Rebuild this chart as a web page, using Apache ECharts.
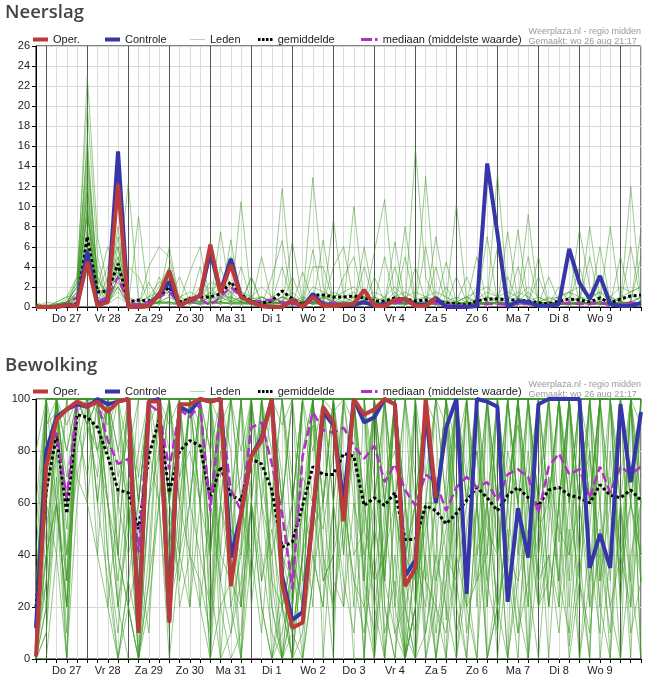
<!DOCTYPE html>
<html>
<head>
  <meta charset="utf-8">
  <title>Neerslag en bewolking - pluim</title>
  <script src="https://cdn.jsdelivr.net/npm/echarts@6/dist/echarts.min.js"></script>
  <style>
    html, body { margin: 0; padding: 0; background: #fff; }
    #pluim { width: 649px; height: 685px; }
  </style>
</head>
<body>
  <div id="pluim"></div>
  <script>
  // tijdas: 6-uurlijkse stappen, van wo 26 18u t/m do 10 12u
  var dagen = ['Wo 26', 'Do 27', 'Vr 28', 'Za 29', 'Zo 30', 'Ma 31', 'Di 1', 'Wo 2', 'Do 3', 'Vr 4', 'Za 5', 'Zo 6', 'Ma 7', 'Di 8', 'Wo 9', 'Do 10'];
  var uren = ['00', '06', '12', '18'];

  // ---- Neerslag (mm) ----
  var operNeerslag = [0,0,0,0.2,0.1,4.5,0.1,0.5,12.2,0, 0,0.1,1.2,3.6,0.1,0.7,1.1,6.2,1.4,4.2, 1.0,0.5,0.1,0,0,0.7,0,1.0,0.1,0.1, 0.2,0.3,1.7,0.1,0.1,0.7,0.8,0.1,0.1,0.9];
  var controleNeerslag = [0,0,0,0.2,0.1,5.5,0.2,0.6,15.5,0, 0,0.1,1.3,2.5,0.1,0.7,1.1,5.5,1.5,4.8, 1.0,0.5,0.1,0,0,0.7,0,1.3,0.2,0.1, 0.2,0.2,0.5,0.1,0.2,0.7,0.8,0.2,0.2,0.9, 0,0,0,0.1,14.3,7.3,0,0.6,0.5,0.1, 0.1,0.3,5.8,2.4,0.8,3.1,0.3,0.1,0.1,0.4];
  var gemNeerslag = [0.1,0,0,0.2,0.3,7.0,1.5,1.6,4.3,0.5, 0.7,0.6,1.0,2.0,0.5,0.8,1.0,1.0,1.3,2.5, 1.2,0.6,0.4,0.6,1.6,0.8,0.2,1.2,1.2,1.0, 1.0,1.1,0.9,0.6,0.6,0.9,0.8,0.6,0.7,0.6, 0.4,0.3,0.2,0.6,0.8,0.8,0.7,0.7,0.6,0.4, 0.3,0.6,0.8,0.7,0.5,0.9,0.4,0.8,1.1,1.2];
  var medNeerslag = [0,0,0,0.2,1,5.5,0.5,1,3,0.3, 0.3,0.5,1,1.5,0.3,0.5,0.8,0.2,1,2, 1,0.5,0.6,0.7,0.5,0.3,0.2,0.6,0.5,0.4, 0.3,0.4,0.5,0.3,0.3,0.4,0.5,0.3,0.3,0.4, 0.2,0.2,0.1,0.2,0.3,0.3,0.2,0.3,0.3,0.2, 0.2,0.3,0.4,0.3,0.3,0.4,0.2,0.3,0.4,0.4];
  var ledenNeerslag = [
    [0,0,0,0.5,2,23,7,2,4,0.5, 0,0.2,1,2,0.5,0.3,1,2,0.8,1.5, 0.5,0.2,0,0.3,1,0.5,0,0.8,1.2,0.5, 0.3,1,0.5,0.2,0.5,1.5,0.3,0.8,0.5,0.2, 0,0.2,0,0.5,1,0.8,0.2,0.5,1.5,0.3, 0.1,0.5,0.3,1,0.5,0.2,0.8,0.5,1.2,0.6],
    [0,0,0,0.2,3,20,5,1,8,0.3, 0.2,0,3,1,0.2,1,0.5,0.4,1.5,0.8, 0.3,3,0.5,0,0,0.2,3.5,0.5,0.3,1, 0.5,0.2,6,0.5,0.1,0.3,1,0.5,0,0.4, 0.2,0,0.5,0.3,0.2,1,3,0.5,0.2,0.1, 0,0.3,1.5,0.5,0.2,0.8,0.5,0.2,0.5,1],
    [0.5,0,0,0,1,17,2,6,3,12.3, 0.5,0,0.5,1,3,0.5,0.2,0.4,0.5,0.3, 0.5,0.3,1,0.5,11.8,1,0.5,0.3,0.5,0.3, 0.2,0.5,0.3,0.2,0.4,0.6,0.4,0.5,0.2,7, 1,0.3,0.1,0.3,0.5,0.2,0.5,0.2,0.3,0.5, 0.3,0.2,0.5,7.7,2,0.5,0.2,0.1,0.3,0.5],
    [0,0.3,0.2,0.5,1.5,14,3,0.5,7,0.2, 9,0.5,0.3,0.5,0.2,1,0.5,6.5,1,0.5, 0.5,0.3,0.5,0.3,0.2,0.5,0.2,0.5,0.3,8.7, 1,0.5,0.3,0.2,0.5,0.3,0.2,15.8,3,0.5, 0.2,0.1,0.3,0.5,0.3,0.5,0.2,0.5,0.3,0.2, 0.5,0.3,0.2,0.5,8,1,0.5,0.3,0.2,0.5],
    [0,0,0.2,0.3,0.5,12,1.5,4,6,0.5, 0.2,4,6,5,0.5,0.3,0.5,0.2,7.5,1, 0.5,0.5,0.3,0.2,0.5,0.3,0.5,12.9,2,0.5, 0.3,0.2,0.5,0.3,0.2,0.5,0.3,0.5,0.2,0.3, 0.5,10.3,0.5,0.2,0.3,0.5,0.3,0.2,0.5,0.3, 0.2,0.5,0.3,0.2,0.5,0.3,0.5,0.3,12,0.5],
    [0.3,0,0,0.2,2.5,11,0.5,3,5,0.3, 0,0.5,1,6,0.5,3.5,6,0.5,0.3,0.5, 10.5,0.5,0.3,0.5,0.3,0.2,0.5,0.3,0.2,0.5, 0.3,10,0.5,0.3,0.5,0.3,0.2,0.5,0.3,0.2, 0.3,0.2,0.5,0.3,0.5,13.3,1,0.5,0.3,0.2, 0.5,0.3,0.2,0.5,0.3,0.2,0.5,0.3,0.5,0.3],
    [0,0,0.5,1,1,10,0.3,0.5,4,0.2, 0.3,0.2,0.5,0.5,0.3,0.5,0.3,0.5,0.5,6.7, 0.5,0.3,5,0.5,0.3,6.5,0.5,0.3,0.5,0.3, 0.2,0.5,0.3,5.5,10.7,0.5,0.3,0.2,0.5,0.3, 4.5,0.5,0.3,0.2,0.5,0.3,7.5,0.5,0.3,0.5, 0.3,0.2,0.5,0.3,0.2,0.5,8,0.5,0.3,0.2],
    [0.2,0,0,0.5,2,9,4,0.5,2.5,0.5, 0.3,0.5,0.5,3,0.5,0.5,0.3,5,0.5,0.3, 0.5,3,0.3,0.5,0.3,0.2,0.5,0.3,6.7,0.5, 0.3,0.5,0.3,0.2,0.5,6.5,0.3,0.5,13,0.5, 0.3,0.2,0.5,0.3,0.2,0.5,0.3,7.7,0.5,0.3, 0.2,0.5,5.5,0.3,0.5,0.3,0.2,0.5,0.3,7.7],
    [0,0,0.3,0.5,0.5,8,1,0.5,2,0.2, 0.2,0.3,0.5,0.5,0.3,0.5,0.3,0.5,0.5,0.3, 0.5,0.3,0.2,3,6.6,0.5,0.3,0.5,0.3,4, 6,0.5,0.3,0.2,0.5,0.3,8,0.5,0.3,0.5, 0.3,0.5,3,0.5,7,0.5,0.3,0.5,9.2,0.5, 0.3,0.5,0.3,0.5,0.3,6,0.5,0.3,0.5,0.3],
    [0,0.5,0.3,0.2,1.5,7.5,2,0.5,3,4, 3,0.5,0.3,4,0.5,0.3,4,0.5,4,0.5, 4,0.5,0.3,0.5,0.3,3,0.5,5.7,0.5,0.3, 0.5,0.3,4,0.5,0.3,0.5,0.3,4,0.5,0.3, 0.5,0.3,0.5,5,0.3,0.5,0.3,0.5,0.3,5, 0.3,0.5,0.3,0.5,5,0.3,0.5,0.3,0.5,0.3],
    [0,0,0,0.3,0.8,7,0.5,0.3,2,0.5, 0.2,2.5,0.5,0.3,0.2,0.5,0.3,0.5,0.3,5, 0.3,0.5,0.3,0.5,4,0.5,0.3,4,4,0.5, 0.3,0.5,0.3,3,0.5,4,0.3,0.5,0.3,4, 0.3,3,0.5,0.3,0.5,6,0.3,0.5,5,0.3, 3,0.5,0.3,0.5,0.3,0.5,0.3,5,0.5,5],
    [0.3,0,0.2,0.5,1,6,1.5,0.5,1.5,0.3, 0.2,0.5,0.3,0.5,0.3,0.5,2,0.5,0.3,0.5, 0.3,0.5,0.3,0.5,0.3,0.5,0.3,0.5,0.3,0.5, 3,5,0.3,0.5,5,0.3,5,0.3,6,0.3, 2,0.3,0.5,2,0.3,0.5,0.3,4,0.5,3, 0.3,2,0.5,4,0.3,3,0.5,0.3,6,0.5],
    [0,0,0,0.2,0.5,5,0.5,0.3,1,0.3, 0.2,0.3,0.5,0.3,0.5,0.3,0.5,0.3,0.5,0.3, 0.2,0.3,0.5,0.3,0.5,0.3,0.5,0.3,0.5,0.3, 0.5,0.3,0.5,0.3,0.5,0.3,0.5,0.3,0.5,0.3, 0.2,0.3,0.2,0.3,0.5,0.3,0.5,0.3,0.5,0.3, 0.5,0.3,0.5,0.3,0.5,0.3,0.5,0.3,0.5,0.3],
    [0,0,0.5,1,3,15,3,1,5,0.5, 0.3,0.5,2,4,0.5,1,0.5,1,1.5,0.5, 1,0.5,0.5,1,0.5,1.5,0.5,0.3,1,0.5, 0.5,1,0.5,1,0.5,0.5,1,0.5,0.5,1, 0.5,0.5,1,0.5,1,0.5,0.5,1,0.5,0.5, 1,0.5,0.5,1,0.5,0.5,1,0.5,0.5,1],
    [0,0,0,0.2,1.5,13,2,0.5,3,0.3, 0,0.3,0.5,2,0.3,0.5,1,0.5,0.5,1, 0.5,0.3,0.5,0.3,0.5,0.3,0.5,1,0.5,0.3, 0.3,0.5,1,0.5,0.3,0.5,0.3,0.5,0.3,0.5, 0.3,0.5,0.3,0.5,0.3,0.5,0.3,0.5,0.3,0.5, 0.3,0.5,0.3,0.5,0.3,0.5,0.3,0.5,0.3,0.5],
    [0.2,0,0.3,0.5,2,9,1,0.5,6,0.5, 0.3,0.5,1.5,3,1,0.5,1.5,0.8,1,1, 0.5,1,0.5,0.3,1,0.5,0.3,0.5,1,0.5, 1,0.5,0.3,0.5,1,0.5,0.5,0.3,1,0.5, 0.3,0.5,1,0.3,0.5,1,0.5,0.3,0.5,1, 0.5,0.3,1,0.5,0.3,0.5,1,0.5,0.3,1],
    [0,0,0,0.3,1,10,0.5,1,2,0.2, 0.2,0.3,1,1.5,0.3,0.8,0.5,1,2,0.5, 0.3,0.5,1,0.5,0.3,0.5,0.3,0.5,0.3,0.5, 0.3,0.5,0.3,0.5,0.3,0.5,0.3,0.5,0.3,0.5, 0.2,0.3,0.2,0.3,0.5,0.3,0.5,0.3,0.2,0.3, 0.5,0.3,0.2,0.3,0.5,0.3,0.2,0.3,0.5,0.3],
    [0,0.2,0,0.5,1,12,1.5,0.3,3,0.3, 0.2,0.5,0.5,1,0.5,1,0.5,1.5,1,0.5, 1,0.5,1,0.5,1,0.5,1,0.5,1,0.5, 0.5,0.5,0.3,0.5,0.5,0.3,0.5,0.5,0.3,0.5, 0.3,0.5,0.3,0.5,0.3,0.5,0.3,0.5,0.3,0.5, 0.3,0.5,0.3,0.5,0.3,0.5,0.3,0.5,0.3,0.5],
    [0,0,0.2,0.8,2.5,16,2.5,1.5,3.5,1, 0.5,1,2.5,2,1,1.5,1,2.5,2,1.5, 1.5,1,2,1,1.5,1,0.5,2,1.5,1, 1.5,2,1,1.5,1,2,1,1.5,1,1.5, 1,0.5,1,1.5,2,1,1.5,1,2,1, 0.5,1,1.5,2,1,1.5,1,2,1.5,2],
    [0,0,0.3,0.5,1,9.5,2,1,4.5,0.8, 0.5,1,1.5,2.5,0.5,1,0.8,1.5,2.5,2, 1.5,0.8,1,0.5,1,0.8,0.5,1,0.8,1.5, 1,1.5,0.8,1,0.5,1,1.5,0.8,1,0.8, 0.5,1,0.5,0.8,1.5,1,0.8,1.5,1,0.5, 0.8,1,1.5,1,0.8,1.5,0.5,1,1.5,2]
  ];

  // ---- Bewolking (%) ----
  var operBewolking = [1,74,92,96,99,97,99,95,99,100, 10,99,99,14,98,98,100,99,100,28, 56,78,84,100,29,12,14,55,97,91, 53,100,94,96,100,98,28,35,100,62];
  var controleBewolking = [12,80,93,96,98,97,100,98,99,100, 12,99,100,15,97,95,100,99,100,39, 56,78,85,100,32,15,18,55,95,90, 60,100,91,93,100,98,32,38,95,60, 89,100,25,100,99,97,22,58,39,98, 100,100,100,100,35,48,35,98,68,95];
  var gemBewolking = [20,65,86,56,94,93,89,78,65,64, 50,78,92,64,80,84,82,62,74,63, 61,77,75,65,43,45,59,74,71,71, 79,78,59,62,59,64,46,46,59,57, 52,56,61,66,62,57,63,66,62,59, 65,66,63,62,60,67,63,62,65,61];
  var medBewolking = [11,78,87,62,98,98,99,84,75,77, 41,98,95,73,96,93,98,57,97,65, 57,89,91,75,56,27,78,95,88,87, 89,82,77,82,68,75,65,59,71,68, 57,66,70,66,68,61,71,73,70,56, 74,79,71,73,62,74,64,74,71,74];
  var ledenBewolking = [
    [5,60,100,40,100,100,98,100,70,85, 30,100,100,90,100,100,100,40,90,100, 100,100,60,20,0,10,40,100,100,95, 100,100,100,70,30,100,10,0,40,100, 100,60,20,100,100,100,35,0,70,100, 100,45,100,100,20,100,100,60,0,100],
    [30,90,95,70,100,98,100,80,40,20, 0,60,100,100,70,95,100,100,30,10, 45,100,100,100,70,20,80,100,60,100, 100,90,30,100,100,55,0,20,100,90, 15,100,100,60,0,30,100,100,100,40, 100,100,5,40,100,100,30,100,100,70],
    [0,20,70,10,90,100,100,100,100,100, 70,100,100,20,100,100,60,0,100,100, 100,30,90,100,20,0,0,30,100,100, 60,100,100,20,50,100,100,70,10,40, 100,100,70,100,100,10,60,100,30,0, 50,100,100,100,80,20,100,100,60,100],
    [10,100,100,90,100,100,95,60,20,50, 100,100,100,60,30,60,100,100,100,80, 20,60,100,100,60,100,100,100,30,40, 100,100,40,0,100,100,60,30,100,100, 90,20,0,60,100,100,100,40,100,100, 20,60,100,0,50,100,100,20,100,90],
    [60,100,100,100,100,90,70,100,100,100, 40,10,80,100,100,100,100,80,100,40, 100,100,100,30,0,40,100,60,100,100, 100,70,0,100,100,20,0,100,100,30, 50,100,100,100,20,100,100,100,0,70, 100,100,40,100,100,60,0,100,100,30],
    [0,40,60,20,100,100,100,100,80,60, 20,100,100,100,60,100,90,20,60,100, 100,100,30,60,100,70,20,100,100,10, 100,100,100,100,0,60,100,30,60,100, 100,40,100,20,100,60,0,100,100,100, 60,100,100,30,0,100,100,100,20,100],
    [20,80,90,50,95,100,100,40,0,30, 60,100,100,40,100,100,100,100,90,20, 0,100,100,100,40,60,100,80,100,100, 70,20,100,100,100,100,30,60,100,50, 0,100,60,100,100,40,100,60,100,100, 100,30,100,100,100,60,100,20,100,100],
    [5,30,100,100,100,100,100,100,100,100, 100,100,100,100,100,60,40,20,100,100, 100,60,20,0,10,30,100,100,100,100, 100,100,60,30,40,100,100,100,0,20, 70,100,100,30,40,100,100,100,60,100, 100,100,70,20,100,100,40,100,100,0],
    [40,100,80,60,100,90,100,100,60,100, 0,40,100,60,100,100,100,100,100,60, 70,100,100,100,30,0,40,100,100,60, 100,100,30,100,60,10,0,20,100,100, 100,0,30,100,100,100,60,100,100,20, 30,100,100,100,60,100,100,70,100,100],
    [0,10,100,80,100,100,100,90,100,50, 80,100,100,20,50,100,100,60,100,100, 100,100,100,100,90,100,30,50,60,100, 100,100,100,0,40,100,100,100,30,0, 40,100,100,100,60,0,40,100,100,100, 100,100,100,60,30,100,100,100,100,40],
    [15,100,100,30,100,100,80,100,40,100, 100,100,100,100,100,100,100,100,20,30, 100,100,70,40,0,20,100,100,60,100, 100,100,50,100,100,100,0,40,60,100, 100,100,30,0,100,100,100,60,0,100, 100,20,100,100,100,100,60,100,100,100],
    [0,60,40,0,60,100,100,100,100,20, 40,100,100,100,100,60,100,40,100,100, 60,40,100,100,100,60,100,100,100,30, 20,100,100,100,30,100,60,0,100,100, 100,100,100,100,100,60,0,30,100,60, 100,100,30,100,100,0,40,100,60,100],
    [50,100,100,60,100,100,100,100,100,100, 100,100,100,30,100,100,60,100,100,100, 100,100,100,0,20,40,0,60,100,100, 100,100,100,100,100,60,30,100,70,100, 60,100,100,100,40,100,100,100,100,50, 60,100,100,100,60,100,100,30,100,60],
    [0,20,60,30,100,100,100,60,20,0, 0,30,100,80,20,40,100,100,70,100, 100,100,100,60,100,100,100,100,40,0, 100,100,20,0,60,100,100,100,30,60, 100,100,100,100,0,20,100,60,100,100, 100,100,100,40,100,100,100,100,30,100],
    [25,100,100,100,100,90,100,80,100,100, 60,100,80,100,100,100,20,0,60,40, 0,60,100,100,60,100,100,100,100,100, 60,0,0,60,100,100,100,60,100,100, 100,60,100,100,100,100,60,100,40,100, 100,100,100,100,60,100,100,100,100,100],
    [10,40,100,60,100,100,100,100,60,100, 20,80,60,100,100,100,100,40,100,60, 100,100,100,80,20,0,40,100,100,100, 100,100,100,100,20,0,60,100,100,20, 0,40,100,100,100,60,100,100,100,60, 0,60,100,100,100,100,60,0,100,100],
    [0,100,100,20,100,100,80,100,100,100, 100,100,100,100,100,100,100,100,100,100, 60,100,100,100,100,40,20,100,100,100, 100,100,100,40,100,100,20,0,60,60, 100,100,60,100,100,100,100,100,60,40, 100,100,60,100,100,100,100,100,100,100],
    [80,100,100,100,100,100,100,20,60,40, 60,100,100,60,100,100,100,60,100,20, 40,100,100,100,30,60,100,100,0,60, 100,100,100,60,100,60,100,100,100,100, 60,100,20,0,60,100,100,100,100,100, 100,60,100,40,0,100,100,100,100,0],
    [0,0,40,100,70,60,40,20,0,30, 10,60,100,20,40,60,100,30,0,10, 30,60,40,10,0,20,60,90,40,20, 50,80,30,10,40,60,20,0,10,40, 20,0,50,80,30,10,60,20,0,40, 70,30,10,60,20,40,10,60,30,0],
    [0,60,100,30,100,60,100,40,10,60, 0,20,60,10,100,40,20,60,30,60, 0,40,10,60,30,10,0,30,60,20, 60,30,10,40,0,60,30,10,40,0, 30,60,10,40,60,20,0,40,80,30, 40,10,50,0,30,60,20,0,40,60],
    [30,80,60,0,100,100,60,100,100,60, 30,90,100,60,40,100,60,100,40,30, 60,30,100,20,0,0,60,20,100,60, 20,60,40,60,10,30,0,40,20,60, 100,30,0,60,20,80,40,10,60,20, 60,100,20,80,40,10,80,40,20,60],
    [0,30,100,80,100,100,100,100,40,100, 60,100,60,100,60,100,100,10,100,60, 100,20,60,40,60,100,60,40,20,100, 40,100,60,100,20,0,40,60,0,30, 60,20,100,40,100,40,80,60,20,100, 20,60,100,60,100,30,60,100,60,40],
    [10,100,100,100,100,100,100,100,100,80, 100,100,100,100,100,100,80,60,100,100, 100,100,100,100,60,30,100,100,100,100, 100,100,100,100,60,100,40,100,100,100, 100,100,100,100,100,100,60,100,100,60, 100,100,100,100,100,100,100,100,100,100],
    [0,40,60,20,80,100,60,30,0,20, 0,30,60,0,40,20,60,0,20,0, 10,60,20,0,30,0,10,40,20,60, 30,10,60,20,0,40,0,20,60,10, 40,10,30,60,0,20,50,10,30,60, 20,60,0,30,80,20,0,60,10,30],
    [100,100,60,100,100,100,40,100,100,100, 60,100,100,100,40,100,100,100,60,100, 100,100,60,100,100,60,100,100,100,100, 40,100,100,100,100,20,100,100,100,100, 100,100,100,60,100,100,100,100,100,100, 100,100,60,100,100,100,100,100,100,100],
    [0,50,80,40,70,90,80,60,30,70, 40,80,90,50,70,80,60,40,80,50, 40,70,90,30,20,40,70,60,50,80, 70,40,50,30,70,80,40,30,50,70, 40,30,60,80,50,40,70,90,60,30, 70,50,40,60,80,40,70,30,60,40],
    [20,90,100,60,100,100,100,100,80,100, 40,100,100,40,100,100,100,80,40,100, 80,100,100,60,40,30,80,100,100,100, 100,100,60,100,60,100,40,60,100,60, 100,80,100,100,60,100,40,100,60,100, 100,100,60,100,60,100,100,40,100,60],
    [0,10,60,20,90,70,100,60,40,20, 0,60,80,20,60,40,30,10,60,30, 20,60,30,50,20,10,40,60,30,40, 60,30,20,50,30,10,20,40,30,20, 10,40,20,30,60,20,40,30,50,20, 40,20,60,30,10,50,20,40,60,30],
    [5,70,100,100,100,100,100,100,100,100, 100,100,100,100,100,100,100,100,100,100, 100,100,100,100,40,20,60,100,100,100, 100,100,100,100,100,100,60,20,100,100, 100,100,100,100,100,100,100,100,100,100, 60,100,100,100,100,100,100,100,100,100],
    [40,20,80,0,100,100,60,100,20,60, 0,100,100,60,100,20,100,100,0,60, 20,100,100,60,0,40,20,100,60,100, 100,60,0,100,30,100,0,20,60,0, 30,100,60,100,30,60,100,60,20,100, 60,30,100,60,100,30,100,60,100,30]
  ];

  // categorieen van de tijdas
  var tijden = [];
  dagen.forEach(function (d) {
    uren.forEach(function (u) { tijden.push(d + ' ' + u); });
  });
  tijden = tijden.slice(3, 63);
  var middernacht = tijden.filter(function (t) { return / 00$/.test(t); });

  var rood = '#bb3b3b', blauw = '#3636a8', groen = '#3c9a24', paars = '#b22fc6';
  var font = '"Liberation Sans", Arial, sans-serif';

  var myChart = echarts.init(document.getElementById('pluim'));

  function xAs(grid) {
    return {
      type: 'category', gridIndex: grid, data: tijden, boundaryGap: false,
      axisLine: { lineStyle: { color: '#000', width: 1 } },
      axisTick: { interval: 0, length: 4, lineStyle: { color: '#000' } },
      axisLabel: {
        interval: function (i, v) { return / 12$/.test(v) && i < tijden.length - 1; },
        formatter: function (v) { return v.slice(0, -3); },
        fontSize: 11, color: '#222', fontFamily: font, margin: 6
      },
      splitLine: { show: true, interval: 0, lineStyle: { color: '#dcdcdc', width: 1 } }
    };
  }
  function yAs(grid, max, step) {
    return {
      type: 'value', gridIndex: grid, min: 0, max: max, interval: step,
      axisLine: { show: true, lineStyle: { color: '#000' } },
      axisTick: { show: true, length: 4, lineStyle: { color: '#000' } },
      axisLabel: { fontSize: 11, color: '#222', fontFamily: font, margin: 6 },
      splitLine: { lineStyle: { color: '#d8d8d8' } }
    };
  }

  function reeksen(g, oper, controle, gem, med, leden, dekking) {
    var out = leden.map(function (d) {
      return { type: 'line', name: 'Leden', xAxisIndex: g, yAxisIndex: g, data: d, symbol: 'none', silent: true, z: 2,
        lineStyle: { width: 1, color: groen, opacity: dekking } };
    });
    out.push({ type: 'line', name: 'gemiddelde', xAxisIndex: g, yAxisIndex: g, data: gem, symbol: 'none', z: 3,
      lineStyle: { width: 3, color: '#000', type: [3, 2.5] },
      markLine: { z: 1, silent: true, symbol: 'none', label: { show: false },
        lineStyle: { color: '#555', width: 1, type: 'solid' },
        data: middernacht.map(function (t) { return { xAxis: t }; }) } });
    out.push({ type: 'line', name: 'mediaan (middelste waarde)', xAxisIndex: g, yAxisIndex: g, data: med, symbol: 'none', z: 4,
      lineStyle: { width: 2.5, color: paars, type: [9, 4] } });
    out.push({ type: 'line', name: 'Controle', xAxisIndex: g, yAxisIndex: g, data: controle, symbol: 'none', z: 5,
      lineStyle: { width: 4, color: blauw } });
    out.push({ type: 'line', name: 'Oper.', xAxisIndex: g, yAxisIndex: g, data: oper, symbol: 'none', z: 6,
      lineStyle: { width: 4, color: rood } });
    return out;
  }

  function legendes(top) {
    var basis = { top: top, padding: 0, selectedMode: false, itemHeight: 4,
      textStyle: { fontSize: 11, color: '#222', fontFamily: font } };
    var items = [
      { left: 33, itemWidth: 15, data: [{ name: 'Oper.', icon: 'rect', itemStyle: { color: rood } }] },
      { left: 105, itemWidth: 15, data: [{ name: 'Controle', icon: 'rect', itemStyle: { color: blauw } }] },
      { left: 190, itemWidth: 15, itemHeight: 1, data: [{ name: 'Leden', icon: 'rect', itemStyle: { color: '#b3d9ab', opacity: 1 } }] },
      { left: 258, itemWidth: 15, itemHeight: 3, data: [{ name: 'gemiddelde', icon: 'path://M0,0h2.5v3h-2.5z M4,0h2.5v3h-2.5z M8,0h2.5v3h-2.5z M12,0h2.5v3h-2.5z', itemStyle: { color: '#000' } }] },
      { left: 361, itemWidth: 17, itemHeight: 3, data: [{ name: 'mediaan (middelste waarde)', icon: 'path://M0,0h11v3h-11z M14,0h2.5v3h-2.5z', itemStyle: { color: paars } }] }
    ];
    return items.map(function (it) { return Object.assign({}, basis, it); });
  }

  function kop(tekst, top) {
    return { text: tekst, left: 5, top: top, padding: 0,
      textStyle: { fontSize: 18.5, fontWeight: 600, color: '#444', fontFamily: '"Open Sans", Arial, sans-serif' } };
  }
  function bron(top) {
    return { text: 'Weerplaza.nl - regio midden\nGemaakt: wo 26 aug 21:17', right: 8, top: top, padding: 0,
      textStyle: { fontSize: 9, fontWeight: 'normal', color: '#9a9a9a', lineHeight: 10.5, fontFamily: font } };
  }

  myChart.setOption({
    animation: false,
    backgroundColor: '#fff',
    title: [kop('Neerslag', 3), bron(26), kop('Bewolking', 356), bron(379)],
    legend: legendes(34).concat(legendes(386)),
    grid: [
      { left: 36, top: 46, width: 605, height: 261, show: true, borderColor: '#000', borderWidth: 1, backgroundColor: '#fff' },
      { left: 36, top: 399, width: 605, height: 260, show: true, borderColor: '#000', borderWidth: 1, backgroundColor: '#fff' }
    ],
    xAxis: [xAs(0), xAs(1)],
    yAxis: [yAs(0, 26, 2), yAs(1, 100, 20)],
    series: reeksen(0, operNeerslag, controleNeerslag, gemNeerslag, medNeerslag, ledenNeerslag, 0.5)
      .concat(reeksen(1, operBewolking, controleBewolking, gemBewolking, medBewolking, ledenBewolking, 0.55))
  });
  </script>
</body>
</html>
